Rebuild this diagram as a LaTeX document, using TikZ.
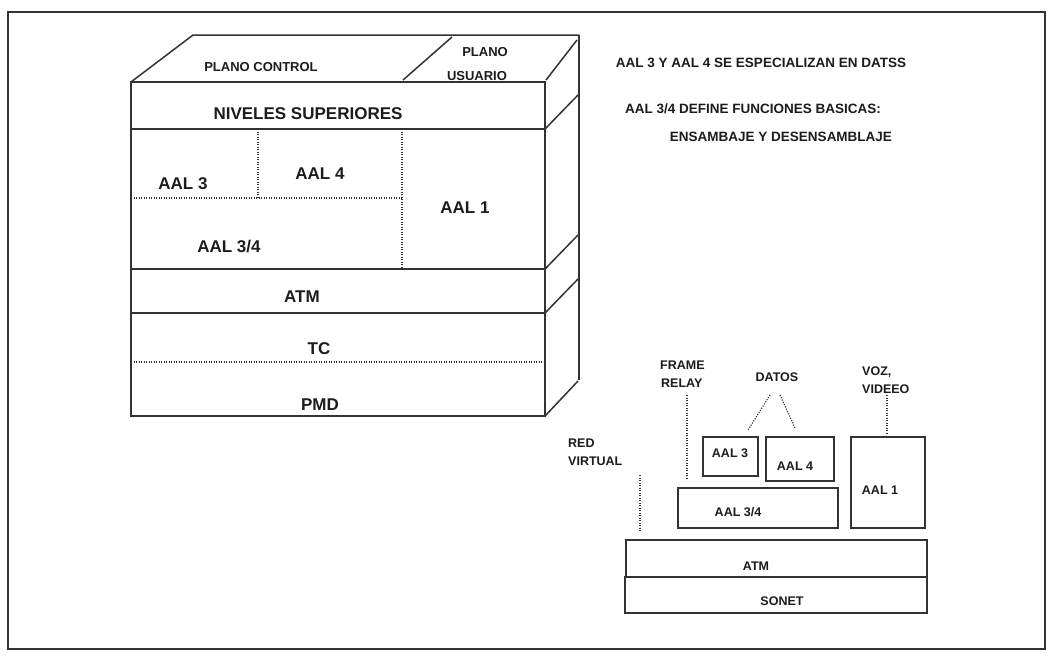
\documentclass[tikz,border=0pt]{standalone}
\usepackage{fontspec}
\setmainfont{Liberation Sans}
\definecolor{linec}{HTML}{333333}
\definecolor{txtc}{HTML}{1C1C1C}
\begin{document}
\begin{tikzpicture}[x=1pt,y=-1pt,
  ln/.style={draw=linec, line width=1.5pt, line join=miter},
  dots/.style={draw=linec, line width=1.2pt, dash pattern=on 1.1pt off 1.4pt},
  big/.style={font=\fontsize{17}{20}\selectfont\bfseries, text=txtc, inner sep=0},
  mid/.style={font=\fontsize{13}{15}\selectfont\bfseries, text=txtc, inner sep=0},
  rtxt/.style={font=\fontsize{13.5}{16}\selectfont\bfseries, text=txtc, inner sep=0},
  sml/.style={font=\fontsize{12.5}{14}\selectfont\bfseries, text=txtc, inner sep=0}]
\useasboundingbox (0,0) rectangle (1047,656);
\fill[white] (0,0) rectangle (1047,656);
% outer frame
\draw[draw=linec, line width=1.8pt] (8,12) rectangle (1045,649);

% ---------- cube ----------
\coordinate (F1) at (131,82);
\coordinate (F2) at (545,82);
\coordinate (B1) at (193,35);
\coordinate (B2) at (579,35);
\coordinate (L1) at (131,129);
\coordinate (R1) at (545,129);
\coordinate (L2) at (131,269);
\coordinate (R2) at (545,269);
\coordinate (L3) at (131,313);
\coordinate (R3) at (545,313);
\coordinate (L4) at (131,416);
\coordinate (R4) at (545,416);
% front face
\draw[ln] (F1) rectangle (R4);
\draw[ln] (L1) -- (R1);
\draw[ln] (L2) -- (R2);
\draw[ln] (L3) -- (R3);
% top face
\draw[ln] (F1) -- (B1) -- (B2);
\draw[ln] (403,80) -- (452,37);
% right face
\draw[ln] (546,80) -- (577,40);
\draw[ln] (B2) -- (579,380);
\draw[ln] (R1) -- (578,95);
\draw[ln] (R2) -- (578,235);
\draw[ln] (R3) -- (578,279);
\draw[ln] (R4) -- (578,381);
% dotted dividers
\draw[dots] (258,129) -- (258,198);
\draw[dots] (131,198) -- (402,198);
\draw[dots] (402,129) -- (402,269);
\draw[dots] (131,362) -- (545,362);

% cube labels
\node[mid] (pc) at (261,67) {PLANO CONTROL};
\node[mid] (pu1) at (485,52) {PLANO};
\node[mid] (pu2) at (477,76) {USUARIO};
\node[big] (ns) at (308,114) {NIVELES SUPERIORES};
\node[big] (a3) at (183,184) {AAL 3};
\node[big] (a4) at (320,174) {AAL 4};
\node[big] (a1) at (465,208) {AAL 1};
\node[big] (a34) at (229,247) {AAL 3/4};
\node[big] (atm) at (302,297) {ATM};
\node[big] (tc) at (319,349) {TC};
\node[big] (pmd) at (320,405) {PMD};

% ---------- right texts ----------
\node[rtxt] (t1) at (761,63) {AAL 3 Y AAL 4 SE ESPECIALIZAN EN DATSS};
\node[rtxt] (t2) at (753,109) {AAL 3/4 DEFINE FUNCIONES BASICAS:};
\node[rtxt] (t3) at (781,137) {ENSAMBAJE Y DESENSAMBLAJE};

% ---------- lower right stack ----------
\draw[ln] (703,437) rectangle (758,476);
\draw[ln] (766,437) rectangle (834,481);
\draw[ln] (851,437) rectangle (925,528);
\draw[ln] (678,488) rectangle (838,528);
\draw[ln] (626,540) rectangle (927,577);
\draw[ln] (625,577) rectangle (927,613);

\node[sml] (s3) at (730,453) {AAL 3};
\node[sml] (s4) at (795,466) {AAL 4};
\node[sml] (s1) at (880,490) {AAL 1};
\node[sml] (s34) at (738,512) {AAL 3/4};
\node[sml] (satm) at (756,566) {ATM};
\node[sml] (sson) at (782,601) {SONET};

\node[sml, anchor=west] (fr1) at (660,365) {FRAME};
\node[sml, anchor=west] (fr2) at (661,383) {RELAY};
\node[sml] (dat) at (777,377) {DATOS};
\node[sml, anchor=west] (vz1) at (862,372) {VOZ,};
\node[sml, anchor=west] (vz2) at (862,389) {VIDEEO};
\node[sml, anchor=west] (rv1) at (568,443) {RED};
\node[sml, anchor=west] (rv2) at (568,461) {VIRTUAL};

\coordinate (frA) at (687,395);
\coordinate (frB) at (687,478);
\coordinate (dA1) at (770,395);
\coordinate (dB1) at (748,430);
\coordinate (dA2) at (780,395);
\coordinate (dB2) at (795,428);
\coordinate (vA) at (887,395);
\coordinate (vB) at (887,433);
\coordinate (rA) at (640,475);
\coordinate (rB) at (640,532);
\draw[dots] (frA) -- (frB);
\draw[dots] (dA1) -- (dB1);
\draw[dots] (dA2) -- (dB2);
\draw[dots] (vA) -- (vB);
\draw[dots] (rA) -- (rB);
\end{tikzpicture}
\end{document}
